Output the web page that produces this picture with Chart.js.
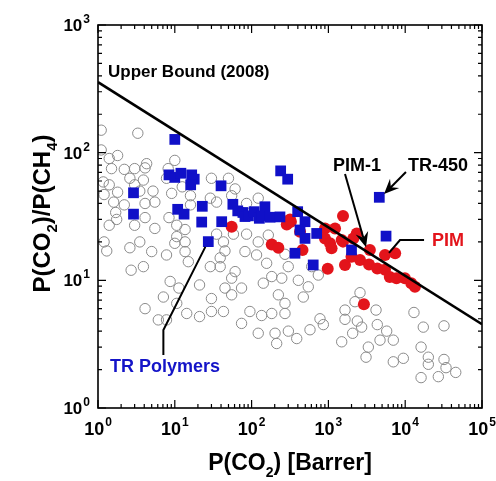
<!DOCTYPE html>
<html>
<head>
<meta charset="utf-8">
<script src="https://cdn.jsdelivr.net/npm/chart.js@4/dist/chart.umd.min.js"></script>
<style>
  html, body { margin: 0; padding: 0; background: #fff; }
  #wrap { width: 496px; height: 481px; }
</style>
</head>
<body>
<div id="wrap"><canvas id="robeson"></canvas></div>
<script>
// CO2/CH4 trade-off plot: permeability vs selectivity, log-log

const FONT = '"Liberation Sans", Arial, sans-serif';

// axis decades (powers of ten)
const xDecades = [0, 1, 2, 3, 4, 5];
const yDecades = [0, 1, 2, 3];

// 2008 upper bound, end points
const boundP = [1, 100000];
const boundSel = [357, 4.53];

// other glassy/rubbery polymers: [P(CO2) Barrer, selectivity]
const otherPolymers = [
  [1.1,150],[3.3,142],[1.1,105],[1.4,90],[1.8,95],[1.5,75],[2.2,74],[3.0,75],[4.1,76],[4.3,82],
  [2.6,63],[3.9,61],[1.4,56],[1.2,47],[1.8,49],[3.5,50],[5.2,50],[1.6,41],[2.2,39],[4.1,40],
  [5.5,41],[1.7,34],[4.1,31],[1.4,27],[3.0,27],[5.5,25.5],[1.2,20],[1.3,17],[2.6,18],[3.5,20],
  [5.0,16.8],[2.7,12],[3.9,12.8],[1.17,59],[3.0,56],[1.75,30],
  [10,87],[8.2,75],[7.8,63],[9.1,48],[12.5,54],[16,46],[16,39],[8.4,31],[10.6,27],[13.6,25],
  [13.6,20],[10,19.5],[10.6,22],[7.8,15.8],[13.6,16.8],[15,14],
  [30,63],[50,63],[61,52],[29,44],[35,41],[55,46],[35,23],[58,23],[43,20],[45,17],[39,15],
  [29,12.8],[39,12.8],[61,11.7],[55,10.4],[74,8.7],[55,7.7],[45,8.7],[30,7.2],[21,9.2],
  [8.7,9.8],[7.1,7.4],[10.6,6.6],[11.3,8.7],[4.1,6.0],[6.1,4.9],[7.8,4.9],[14.3,5.5],[21,5.2],
  [30,5.7],[43,5.7],[74,4.6],[95,5.7],[135,5.3],[183,5.5],[272,5.5],[122,3.85],[202,3.85],
  [212,3.2],[301,4.0],[142,9.5],[183,10.7],[247,10.4],[223,7.7],[272,6.6],[157,13.6],[122,20],
  [165,22.6],[86,23],[82,16.8],[116,15.8],[86,40],[122,44],[272,16],
  [300,12.8],[406,10],[547,8.9],[471,7.4],[387,3.5],[576,4.1],[777,5.0],[859,4.5],[739,11],[606,12.8],
  [2580,8.0],[2220,6.8],[1645,5.85],[4170,5.85],[1645,4.95],[2380,4.8],[2710,4.3],[2070,3.85],
  [1490,3.3],[3310,3.0],[4700,3.4],[5740,4.0],[7000,3.4],[4330,4.5],[3090,2.5],[7000,2.3],
  [9450,2.45],[13000,5.6],[17200,4.3],[32000,4.4],[16100,3.0],[20000,2.5],[20000,2.2],
  [32000,2.4],[34000,2.07],[45500,1.9],[16100,1.73],[27000,1.76]
];

// thermally rearranged polymers
const trPolymers = [
  [10,127],[8.4,67],[10,64],[12,69],[16.6,67],[17.9,62],[16.1,56],[40,55],[2.9,48.5],[2.9,33],
  [10.9,36],[13.2,33],[22.8,38],[22.4,28.6],[27.3,20.1],[40.8,28.8],[57,39.4],[66,35],[77,34],
  [82,31.6],[91,32],[108,34.5],[126,30.6],[136,32],[149,37.7],[174,31.2],[234,31.4],[239,72],
  [295,62],[398,34.5],[496,28.8],[427,24.8],[496,21.3],[367,16.3],[704,23.3],[634,13.2],
  [2000,17.3],[4600,44.7],[5630,22.2]
];

// polymers of intrinsic microporosity
const pimPolymers = [
  [55,26.3],[183,19.1],[223,18],[287,27.4],[325,28.8],[316,30],[427,24],[460,17.3],
  [903,25.5],[1220,25.5],[903,21.3],[1050,19.5],[1100,17.8],[1550,31.9],[1550,20.1],
  [2340,23.3],[2110,21.3],[1490,20.7],[980,12.3],[1645,13.2],[2000,15.3],[2580,14.4],
  [3470,17.3],[3380,13.3],[4330,12.4],[5460,12.1],[5460,15.8],[7400,16.3],[6300,10.6],
  [7700,10.4],[9900,10.4],[12000,9.5],[13400,8.9],[2900,6.5]
];

// text labels, anchored at data coordinates (left, baseline)
const notes = [
  { text: 'Upper Bound (2008)', x: 1.35, y: 391, color: '#000', size: 17 },
  { text: 'PIM-1', x: 1150, y: 71.8, color: '#000', size: 18 },
  { text: 'TR-450', x: 10870, y: 71.8, color: '#000', size: 18 },
  { text: 'PIM', x: 22300, y: 18.6, color: '#e3141b', size: 18 },
  { text: 'TR Polymers', x: 1.43, y: 1.91, color: '#1414c8', size: 18 }
];

// leader lines, also in data coordinates
const leaders = [
  { pts: [[25, 18.3], [7.1, 4.08], [7.1, 2.6]], arrow: false },
  { pts: [[1645, 68], [3090, 18.2]], arrow: true },
  { pts: [[10230, 70.5], [5300, 47.4]], arrow: true },
  { pts: [[17600, 20.7], [8560, 20.7], [6150, 16.4]], arrow: false }
];

const toXY = arr => arr.map(p => ({ x: p[0], y: p[1] }));

function drawPower(ctx, exp, px, py, size, align) {
  const big = `bold ${size}px ${FONT}`;
  const small = `bold ${Math.round(size * 0.68)}px ${FONT}`;
  ctx.font = big;
  const wb = ctx.measureText('10').width;
  ctx.font = small;
  const ws = ctx.measureText(String(exp)).width;
  const total = wb + 1 + ws;
  const left = align === 'right' ? px - total : px - total / 2;
  ctx.textAlign = 'left';
  ctx.textBaseline = 'alphabetic';
  ctx.font = big;
  ctx.fillText('10', left, py);
  ctx.font = small;
  ctx.fillText(String(exp), left + wb + 1, py - size * 0.48);
}

// draws text with subscript parts: [normal, sub, normal, sub, ...]
function drawSubText(ctx, parts, cx, baseline, size) {
  const big = `bold ${size}px ${FONT}`;
  const small = `bold ${Math.round(size * 0.62)}px ${FONT}`;
  let w = 0;
  parts.forEach((s, i) => { ctx.font = i % 2 ? small : big; w += ctx.measureText(s).width; });
  let x = cx - w / 2;
  ctx.textAlign = 'left';
  ctx.textBaseline = 'alphabetic';
  parts.forEach((s, i) => {
    ctx.font = i % 2 ? small : big;
    ctx.fillText(s, x, i % 2 ? baseline + size * 0.3 : baseline);
    x += ctx.measureText(s).width;
  });
}

const framePlugin = {
  id: 'frame',
  afterDraw(chart) {
    const { ctx, chartArea: a, scales: { x, y } } = chart;
    ctx.save();
    ctx.fillStyle = '#000';
    ctx.strokeStyle = '#000';

    // inward ticks on all four sides
    ctx.lineWidth = 1.2;
    ctx.beginPath();
    xDecades.forEach(d => {
      for (let m = 1; m <= 9; m++) {
        if (d === xDecades[xDecades.length - 1] && m > 1) break;
        const px = x.getPixelForValue(m * Math.pow(10, d));
        const len = m === 1 ? 8 : 4;
        ctx.moveTo(px, a.bottom); ctx.lineTo(px, a.bottom - len);
        ctx.moveTo(px, a.top); ctx.lineTo(px, a.top + len);
      }
    });
    yDecades.forEach(d => {
      for (let m = 1; m <= 9; m++) {
        if (d === yDecades[yDecades.length - 1] && m > 1) break;
        const py = y.getPixelForValue(m * Math.pow(10, d));
        const len = m === 1 ? 8 : 4;
        ctx.moveTo(a.left, py); ctx.lineTo(a.left + len, py);
        ctx.moveTo(a.right, py); ctx.lineTo(a.right - len, py);
      }
    });
    ctx.stroke();

    // plot frame
    ctx.lineWidth = 1.6;
    ctx.strokeRect(a.left, a.top, a.right - a.left, a.bottom - a.top);

    // tick labels
    xDecades.forEach(d => drawPower(ctx, d, x.getPixelForValue(Math.pow(10, d)), a.bottom + 27, 18, 'center'));
    yDecades.forEach(d => drawPower(ctx, d, a.left - 8, y.getPixelForValue(Math.pow(10, d)) + 6, 17, 'right'));

    // axis titles
    drawSubText(ctx, ['P(CO', '2', ') [Barrer]'], (a.left + a.right) / 2, a.bottom + 62, 23);
    ctx.save();
    ctx.translate(50, (a.top + a.bottom) / 2 - 3);
    ctx.rotate(-Math.PI / 2);
    drawSubText(ctx, ['P(CO', '2', ')/P(CH', '4', ')'], 0, 0, 24);
    ctx.restore();

    // leader lines and arrows
    ctx.lineWidth = 2;
    leaders.forEach(l => {
      const pts = l.pts.map(p => [x.getPixelForValue(p[0]), y.getPixelForValue(p[1])]);
      const n = pts.length;
      const end = pts[n - 1];
      const prev = pts[n - 2];
      const ang = Math.atan2(end[1] - prev[1], end[0] - prev[0]);
      const headLen = 15, headW = 6.5;
      const c = Math.cos(ang), s = Math.sin(ang);
      ctx.beginPath();
      ctx.moveTo(pts[0][0], pts[0][1]);
      for (let i = 1; i < n; i++) {
        if (i === n - 1 && l.arrow) {
          ctx.lineTo(end[0] - c * headLen * 0.6, end[1] - s * headLen * 0.6);
        } else {
          ctx.lineTo(pts[i][0], pts[i][1]);
        }
      }
      ctx.stroke();
      if (l.arrow) {
        ctx.beginPath();
        ctx.moveTo(end[0], end[1]);
        ctx.lineTo(end[0] - c * headLen - s * headW, end[1] - s * headLen + c * headW);
        ctx.lineTo(end[0] - c * headLen * 0.65, end[1] - s * headLen * 0.65);
        ctx.lineTo(end[0] - c * headLen + s * headW, end[1] - s * headLen - c * headW);
        ctx.closePath();
        ctx.fill();
      }
    });

    // labels
    ctx.textAlign = 'left';
    ctx.textBaseline = 'alphabetic';
    notes.forEach(n => {
      ctx.font = `bold ${n.size}px ${FONT}`;
      ctx.fillStyle = n.color;
      ctx.fillText(n.text, x.getPixelForValue(n.x), y.getPixelForValue(n.y));
    });
    ctx.restore();
  }
};

new Chart(document.getElementById('robeson'), {
  type: 'scatter',
  data: {
    datasets: [
      {
        label: 'Upper Bound (2008)',
        data: boundP.map((p, i) => ({ x: p, y: boundSel[i] })),
        showLine: true,
        borderColor: '#000',
        borderWidth: 2.6,
        pointRadius: 0,
        order: 0
      },
      {
        label: 'TR Polymers',
        data: toXY(trPolymers),
        pointStyle: 'rect',
        pointRadius: 7.6,
        backgroundColor: '#1010c8',
        borderWidth: 0,
        order: 1
      },
      {
        label: 'PIM',
        data: toXY(pimPolymers),
        pointStyle: 'circle',
        pointRadius: 6,
        backgroundColor: '#e3141b',
        borderWidth: 0,
        order: 2
      },
      {
        label: 'Other polymers',
        data: toXY(otherPolymers),
        pointStyle: 'circle',
        pointRadius: 5.2,
        backgroundColor: 'rgba(0,0,0,0)',
        borderColor: '#8a8a8a',
        borderWidth: 1,
        order: 3
      }
    ]
  },
  options: {
    responsive: true,
    maintainAspectRatio: false,
    animation: false,
    layout: { padding: { left: 98, right: 14, top: 25, bottom: 73 } },
    plugins: { legend: { display: false }, tooltip: { enabled: false } },
    scales: {
      x: { type: 'logarithmic', min: 1, max: 100000, display: false },
      y: { type: 'logarithmic', min: 1, max: 1000, display: false }
    }
  },
  plugins: [framePlugin]
});
</script>
</body>
</html>
